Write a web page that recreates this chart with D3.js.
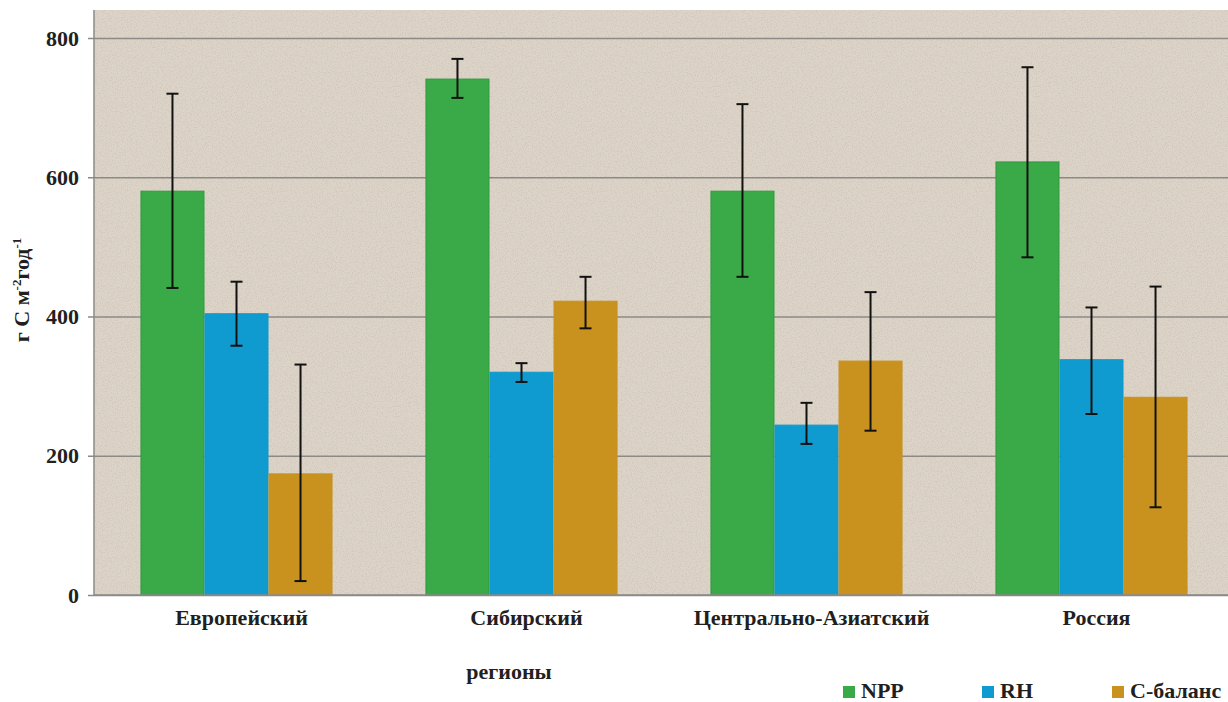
<!DOCTYPE html>
<html>
<head>
<meta charset="utf-8">
<script src="https://cdn.jsdelivr.net/npm/d3@7"></script>
<style>
  html, body { margin: 0; padding: 0; background: #ffffff; }
  svg { display: block; }
  svg text { font-family: 'Liberation Serif', 'Times New Roman', serif !important; font-weight: bold; fill: #231f20; }
</style>
</head>
<body>
<svg id="chart" width="1228" height="702"></svg>
<script>
// ---- data ----
const regions = ["Европейский", "Сибирский", "Центрально-Азиатский", "Россия"];
const seriesNames = ["NPP", "RH", "С-баланс"];
const nppValues = [580, 741, 580, 622];
const nppLow    = [441, 714, 457, 485];
const nppHigh   = [720, 770, 705, 758];
const rhValues  = [404, 320, 244, 338];
const rhLow     = [358, 306, 217, 260];
const rhHigh    = [450, 333, 276, 413];
const cValues   = [174, 422, 336, 284];
const cLow      = [20, 383, 236, 126];
const cHigh     = [331, 457, 435, 443];
const yTicks    = [0, 200, 400, 600, 800];
const colors    = ["#3aaa48", "#0f9bcf", "#c9921f"];
const strokes   = ["#2e9a3c", "#0f9bcf", "#c9921f"];

const seriesVals = [nppValues, rhValues, cValues];
const seriesLow = [nppLow, rhLow, cLow];
const seriesHigh = [nppHigh, rhHigh, cHigh];

const rows = [];
regions.forEach((r, i) => {
  seriesNames.forEach((s, j) => {
    rows.push({ region: r, series: s, si: j, value: seriesVals[j][i], low: seriesLow[j][i], high: seriesHigh[j][i] });
  });
});

const FONT = "'Liberation Serif', 'Times New Roman', serif";

// ---- layout ----
const svg = d3.select("#chart");
const plotLeft = 94, plotRight = 1234, plotTop = 10, plotBottom = 595;

const y = d3.scaleLinear().domain([0, 800]).range([plotBottom, 38]);
const x0 = d3.scaleBand().domain(regions).range([plotLeft, plotRight]).paddingInner(0.326).paddingOuter(0.163);
const x1 = d3.scaleBand().domain(seriesNames).range([0, x0.bandwidth()]).padding(0);

// background with speckle texture
const defs = svg.append("defs");
const filt = defs.append("filter").attr("id", "speckle").attr("x", 0).attr("y", 0).attr("width", 1).attr("height", 1);
filt.append("feTurbulence").attr("type", "fractalNoise").attr("baseFrequency", 0.8).attr("numOctaves", 2).attr("seed", 3).attr("result", "noise");
filt.append("feColorMatrix").attr("in", "noise").attr("type", "matrix")
  .attr("values", "0 0 0 0 0.55  0 0 0 0 0.52  0 0 0 0 0.48  0 0 0 -3.5 1.9")
  .attr("result", "dots");
filt.append("feComposite").attr("in", "dots").attr("in2", "SourceGraphic").attr("operator", "in");

svg.append("rect")
  .attr("x", plotLeft).attr("y", plotTop)
  .attr("width", plotRight - plotLeft).attr("height", plotBottom - plotTop)
  .attr("fill", "#ddd4c7");
svg.append("rect")
  .attr("x", plotLeft).attr("y", plotTop)
  .attr("width", plotRight - plotLeft).attr("height", plotBottom - plotTop)
  .attr("fill", "#ddd4c7")
  .attr("filter", "url(#speckle)")
  .attr("opacity", 0.5);

// gridlines + y axis
const yAxis = d3.axisLeft(y).tickValues(yTicks).tickSize(-(plotRight - plotLeft)).tickPadding(12);
const gy = svg.append("g").attr("transform", `translate(${plotLeft},0)`).call(yAxis)
  .attr("font-family", FONT);
gy.select(".domain").remove();
gy.selectAll(".tick line").attr("stroke", "#8c8a88").attr("stroke-width", 1.5).attr("x1", -6);
gy.selectAll(".tick text").attr("font-size", 22).style("font-family", FONT).attr("font-weight", "bold").attr("fill", "#231f20").attr("x", -15).attr("dy", "0.32em");

// left axis line
svg.append("line").attr("x1", plotLeft).attr("x2", plotLeft).attr("y1", plotTop).attr("y2", plotBottom)
  .attr("stroke", "#8c8a88").attr("stroke-width", 1.5);

// bars
const barG = svg.append("g");
barG.selectAll("rect.bar").data(rows).join("rect")
  .attr("class", "bar")
  .attr("x", d => x0(d.region) + x1(d.series) + 0.5)
  .attr("y", d => y(d.value))
  .attr("width", x1.bandwidth() - 1)
  .attr("height", d => y(0) - y(d.value))
  .attr("fill", d => colors[d.si])
  .attr("stroke", d => strokes[d.si])
  .attr("stroke-width", 1);

// error bars
const errG = svg.append("g").attr("stroke", "#111").attr("stroke-width", 2);
const cx = d => x0(d.region) + x1(d.series) + x1.bandwidth() / 2;
errG.selectAll("line.v").data(rows).join("line").attr("class", "v")
  .attr("x1", cx).attr("x2", cx).attr("y1", d => y(d.high)).attr("y2", d => y(d.low));
errG.selectAll("line.t").data(rows).join("line").attr("class", "t")
  .attr("x1", d => cx(d) - 6).attr("x2", d => cx(d) + 6).attr("y1", d => y(d.high)).attr("y2", d => y(d.high));
errG.selectAll("line.b").data(rows).join("line").attr("class", "b")
  .attr("x1", d => cx(d) - 6).attr("x2", d => cx(d) + 6).attr("y1", d => y(d.low)).attr("y2", d => y(d.low));

// bottom axis line
svg.append("line").attr("x1", plotLeft).attr("x2", plotRight).attr("y1", plotBottom).attr("y2", plotBottom)
  .attr("stroke", "#8c8a88").attr("stroke-width", 1.5);

// x labels
const xAxis = d3.axisBottom(x0).tickSize(0).tickPadding(14);
const gx = svg.append("g").attr("transform", `translate(0,${plotBottom})`).call(xAxis).attr("font-family", FONT);
gx.select(".domain").remove();
gx.selectAll(".tick text").attr("font-size", 22).style("font-family", FONT).attr("font-weight", "bold").attr("fill", "#231f20").attr("dx", 5);

// axis titles
svg.append("text").attr("x", 509).attr("y", 679).attr("text-anchor", "middle").attr("font-size", 22).style("font-family", FONT).text("регионы");
const yt = svg.append("text").attr("transform", "translate(29,290) rotate(-90)").attr("text-anchor", "middle").attr("font-size", 22).style("font-family", FONT);
yt.append("tspan").text("г С м");
yt.append("tspan").attr("font-size", 13).attr("dy", -8).text("-2");
yt.append("tspan").attr("dy", 8).text("год");
yt.append("tspan").attr("font-size", 13).attr("dy", -8).text("-1");

// legend
const legendX = [843, 982, 1112];
const lg = svg.append("g").selectAll("g").data(seriesNames).join("g")
  .attr("transform", (d, i) => `translate(${legendX[i]},0)`);
lg.append("rect").attr("x", 0).attr("y", 686).attr("width", 12).attr("height", 12).attr("fill", (d, i) => colors[i]);
lg.append("text").attr("x", 18).attr("y", 698).attr("font-size", 22).style("font-family", FONT).text(d => d);
</script>
</body>
</html>
